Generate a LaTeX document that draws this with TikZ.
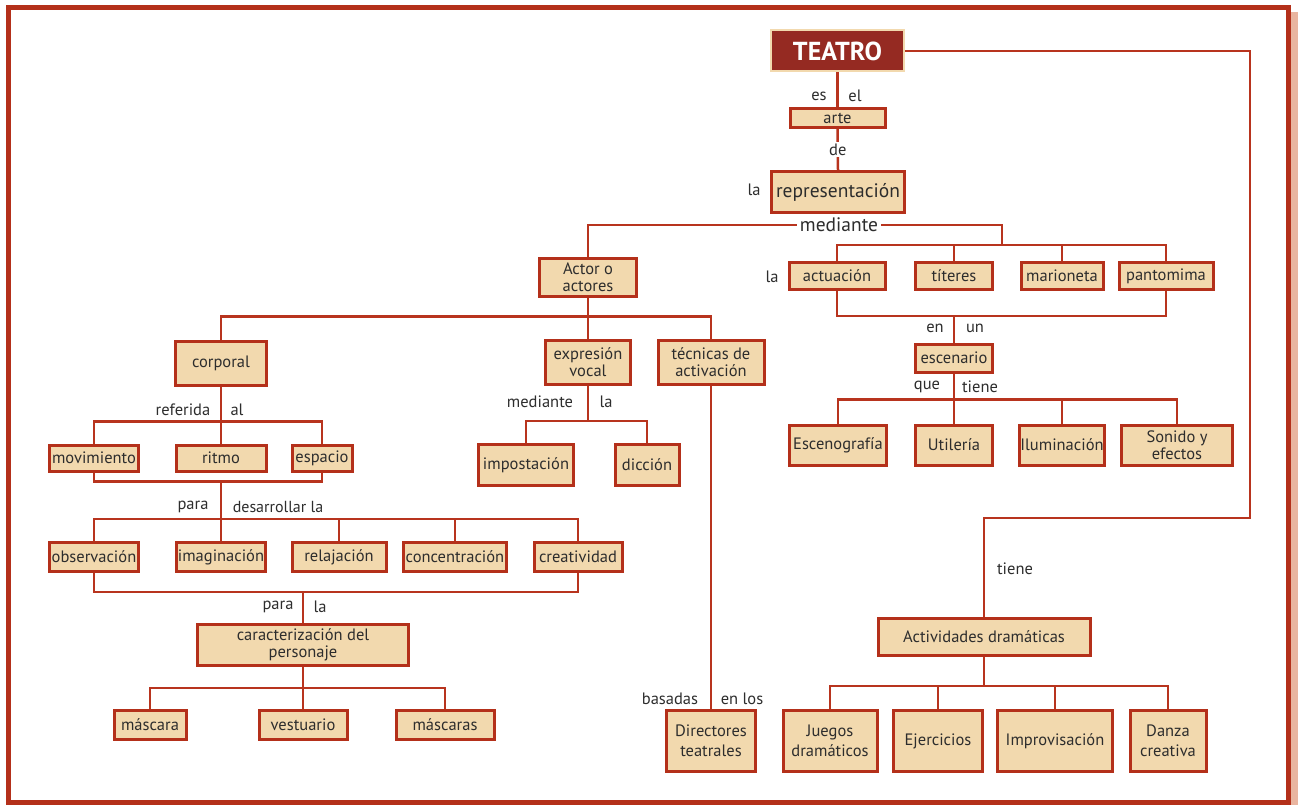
\documentclass[tikz,border=0pt]{standalone}
\usepackage{fontspec}
\setmainfont{PT Sans}
\definecolor{frame}{RGB}{180,48,26}
\definecolor{ln}{RGB}{184,52,30}
\definecolor{boxfill}{RGB}{242,217,174}
\definecolor{teatrofill}{RGB}{149,42,34}
\definecolor{txt}{RGB}{45,45,45}
\definecolor{shadow}{RGB}{233,181,160}
\tikzset{
 bx/.style={draw=frame, fill=boxfill, line width=3pt, inner sep=1pt, align=center, text=txt, font=\fontsize{16.5}{17}\selectfont},
 tall/.style={font=\fontsize{16.5}{20}\selectfont},
 lbl/.style={text=txt, font=\fontsize{16.5}{18}\selectfont, inner sep=1pt},
 con/.style={draw=ln, line width=2.5pt},
}
\begin{document}
\begin{tikzpicture}[x=1pt,y=-1pt]
\useasboundingbox (0,0) rectangle (1298,805);
% frame
\fill[shadow] (1291,12) rectangle (1298,805);
\draw[frame, line width=5.5pt] (8.5,7.5) rectangle (1288.5,802.5);

% top
\node[draw=boxfill, fill=teatrofill, line width=2pt, minimum width=133pt, minimum height=41pt, text=white, font=\fontsize{26}{28}\selectfont\bfseries] (teatro) at (837.5,51) {TEATRO};
\node[bx, minimum width=95pt, minimum height=19pt, inner sep=0pt] (arte) at (837.5,118) {arte};
\node[bx, minimum width=133pt, minimum height=41pt, font=\fontsize{19.5}{21}\selectfont] (repr) at (838,192) {representación};
\node[lbl, fill=white, inner sep=3pt, font=\fontsize{19.5}{21}\selectfont] (mediante) at (839,225) {mediante};
\coordinate (mr) at (1002,244);

% right branch
\node[bx, minimum width=96pt, minimum height=27pt] (actuacion) at (837,276) {actuación};
\node[bx, minimum width=77pt, minimum height=27pt] (titeres) at (954,276) {títeres};
\node[bx, minimum width=82pt, minimum height=27pt] (marioneta) at (1062,276) {marioneta};
\node[bx, minimum width=94pt, minimum height=27pt] (pantomima) at (1166,276) {pantomima};
\coordinate (b4) at (954,316);
\node[bx, minimum width=77pt, minimum height=28pt] (escenario) at (954,358) {escenario};
\node[bx, minimum width=97pt, minimum height=40pt] (escenografia) at (838,445) {Escenografía};
\node[bx, minimum width=77pt, minimum height=40pt] (utileria) at (954,445) {Utilería};
\node[bx, minimum width=83pt, minimum height=40pt] (iluminacion) at (1062,445) {Iluminación};
\node[bx, minimum width=111pt, minimum height=40pt] (sonido) at (1177,445) {Sonido y\\efectos};

% actor branch
\node[bx, minimum width=97pt, minimum height=38pt] (actor) at (588,277) {Actor o\\actores};
\node[bx, minimum width=91pt, minimum height=44pt] (corporal) at (221,363) {corporal};
\node[bx, minimum width=85pt, minimum height=44pt] (expresion) at (588,362) {expresión\\vocal};
\node[bx, minimum width=106pt, minimum height=44pt] (tecnicas) at (711,362) {técnicas de\\activación};

\node[bx, minimum width=89pt, minimum height=26pt] (movimiento) at (94,458) {movimiento};
\node[bx, minimum width=90pt, minimum height=26pt] (ritmo) at (221,458) {ritmo};
\node[bx, minimum width=60pt, minimum height=26pt] (espacio) at (322,458) {espacio};
\coordinate (b1) at (221,482);

\node[bx, minimum width=89pt, minimum height=29pt] (observacion) at (94,557) {observación};
\node[bx, minimum width=88pt, minimum height=29pt] (imaginacion) at (221,557) {imaginación};
\node[bx, minimum width=94pt, minimum height=29pt] (relajacion) at (339,557) {relajación};
\node[bx, minimum width=103pt, minimum height=29pt] (concentracion) at (455,557) {concentración};
\node[bx, minimum width=88pt, minimum height=29pt] (creatividad) at (578,557) {creatividad};
\coordinate (b2) at (303,592);

\node[bx, minimum width=211pt, minimum height=41pt] (caract) at (303,645) {caracterización del\\personaje};
\node[bx, minimum width=72pt, minimum height=29pt] (mascara) at (150,725) {máscara};
\node[bx, minimum width=88pt, minimum height=29pt] (vestuario) at (303,725) {vestuario};
\node[bx, minimum width=98pt, minimum height=29pt] (mascaras) at (445,725) {máscaras};

\node[bx, minimum width=95pt, minimum height=41pt] (impostacion) at (526,465) {impostación};
\node[bx, minimum width=64pt, minimum height=41pt] (diccion) at (647,465) {dicción};
\coordinate (b3) at (588,421);

\node[bx, tall, minimum width=89pt, minimum height=61pt] (directores) at (711,741) {Directores\\teatrales};

% actividades
\coordinate (c1) at (1250,518);
\node[bx, minimum width=212pt, minimum height=37pt] (actividades) at (984,637) {Actividades dramáticas};
\node[bx, tall, minimum width=94pt, minimum height=61pt] (juegos) at (830,741) {Juegos\\dramáticos};
\node[bx, tall, minimum width=89pt, minimum height=61pt] (ejercicios) at (938,741) {Ejercicios};
\node[bx, tall, minimum width=115pt, minimum height=61pt] (improvisacion) at (1055,741) {Improvisación};
\node[bx, tall, minimum width=76pt, minimum height=61pt] (danza) at (1168,741) {Danza\\creativa};

% connectors
\draw[con] (teatro.south) -- (arte.north);
\draw[con] (arte.south) -- node[lbl, fill=white, inner sep=2pt] {de} (repr.north);
\draw[con] (mediante.west) -| (actor.north);
\draw[con] (mediante.east) -| (mr);
\draw[con] (actuacion.north) -- ++(0,-16) -| (pantomima.north);
\draw[con] (titeres.north) -- ++(0,-16);
\draw[con] (marioneta.north) -- ++(0,-16);
\draw[con] (actuacion.south) -- ++(0,25) -| (pantomima.south);
\draw[con] (b4) -- (escenario.north);
\draw[con] (escenario.south) -- (utileria.north);
\draw[con] (escenografia.north) -- ++(0,-24) -| (sonido.north);
\draw[con] (iluminacion.north) -- ++(0,-24);

\draw[con] (actor.south) -- (expresion.north);
\draw[con] (corporal.north) -- ++(0,-23) -| (tecnicas.north);
\draw[con] (corporal.south) -- (ritmo.north);
\draw[con] (movimiento.north) -- ++(0,-22) -| (espacio.north);
\draw[con] (movimiento.south) -- ++(0,9) -| (espacio.south);
\draw[con] (b1) -- (imaginacion.north);
\draw[con] (observacion.north) -- ++(0,-22) -| (creatividad.north);
\draw[con] (relajacion.north) -- ++(0,-22);
\draw[con] (concentracion.north) -- ++(0,-22);
\draw[con] (observacion.south) -- ++(0,19) -| (creatividad.south);
\draw[con] (b2) -- (caract.north);
\draw[con] (caract.south) -- (vestuario.north);
\draw[con] (mascara.north) -- ++(0,-21) -| (mascaras.north);
\draw[con] (expresion.south) -- (b3);
\draw[con] (impostacion.north) -- ++(0,-22) -| (diccion.north);
\draw[con] (tecnicas.south) -- (directores.north);

\draw[con] (teatro.east) -| (c1) -| (actividades.north);
\draw[con] (actividades.south) -- ++(0,29);
\draw[con] (juegos.north) -- ++(0,-23) -| (danza.north);
\draw[con] (ejercicios.north) -- ++(0,-23);
\draw[con] (improvisacion.north) -- ++(0,-23);

% labels
\node[lbl] (l1) at (819,96) {es};
\node[lbl] (l2) at (855,96) {el};
\node[lbl] (l3) at (754,190) {la};
\node[lbl] (l4) at (772,277) {la};
\node[lbl] (l5) at (935,328) {en};
\node[lbl] (l6) at (975,328) {un};
\node[lbl] (l7) at (927,387) {que};
\node[lbl] (l8) at (980,387) {tiene};
\node[lbl] (l9) at (183,410) {referida};
\node[lbl] (l10) at (237,410) {al};
\node[lbl] (l11) at (193,507) {para};
\node[lbl, font=\fontsize{16}{18}\selectfont] (l12) at (278,507) {desarrollar la};
\node[lbl] (l13) at (278,607) {para};
\node[lbl] (l14) at (320,607) {la};
\node[lbl] (l15) at (540,402) {mediante};
\node[lbl] (l16) at (606,402) {la};
\node[lbl] (l17) at (670,699) {basadas};
\node[lbl] (l18) at (742,699) {en los};
\node[lbl] (l19) at (1015,569) {tiene};
\end{tikzpicture}
\end{document}
